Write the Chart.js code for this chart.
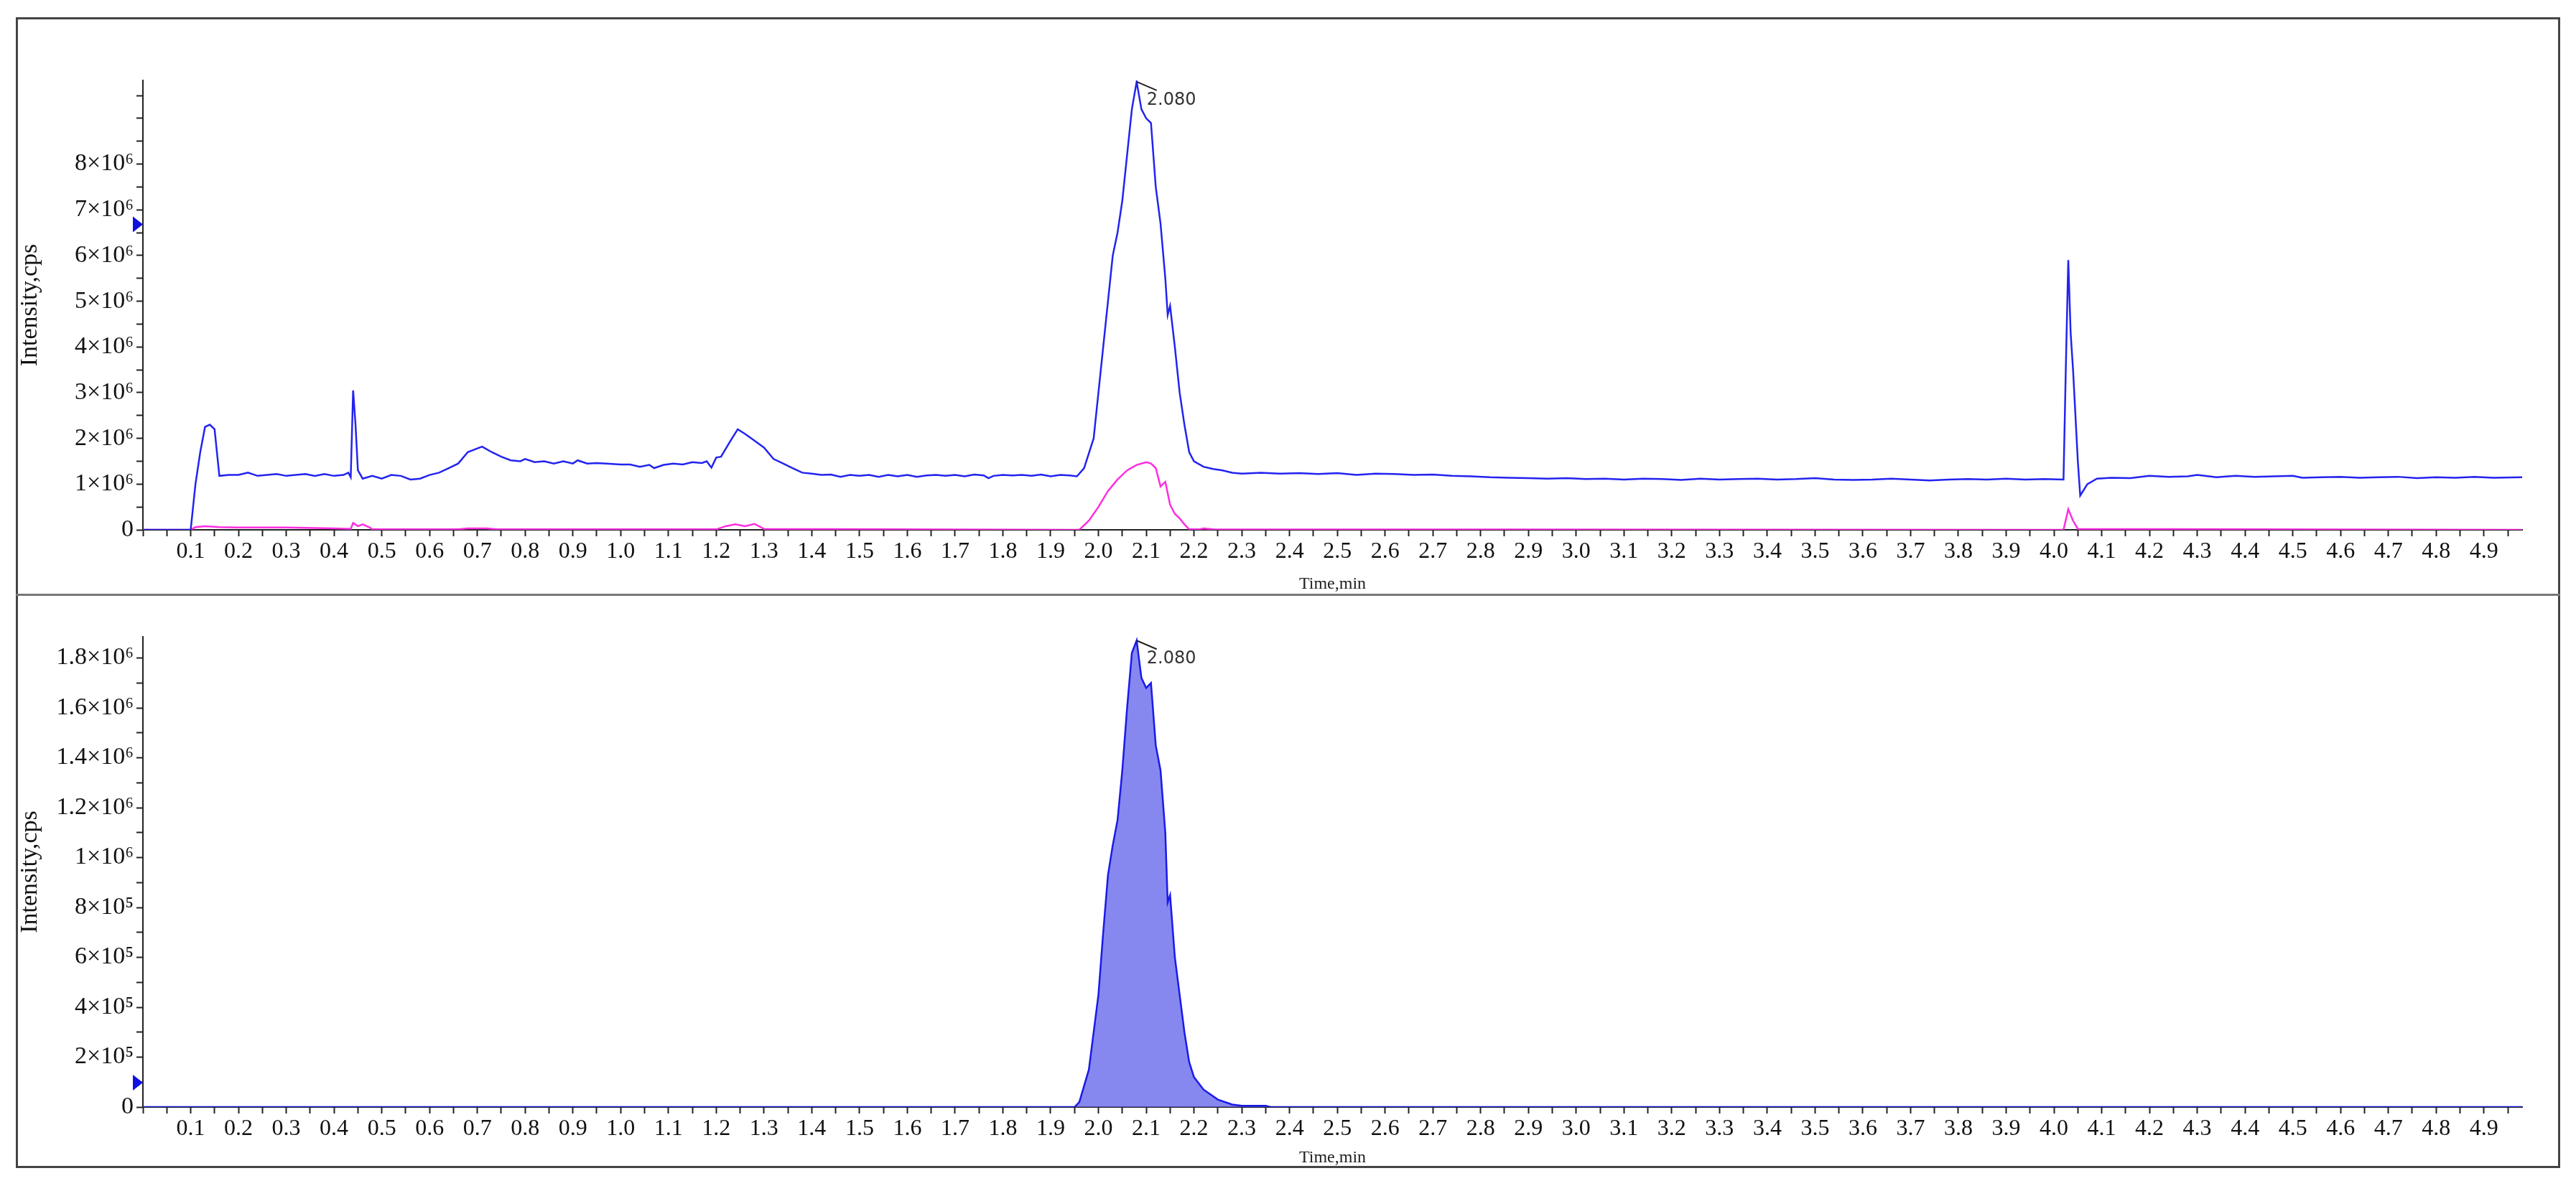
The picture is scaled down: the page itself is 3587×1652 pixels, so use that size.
<!DOCTYPE html>
<html><head><meta charset="utf-8">
<script src="https://cdn.jsdelivr.net/npm/chart.js@4/dist/chart.umd.min.js"></script>
<style>
html,body{margin:0;padding:0;background:#fff;width:3587px;height:1652px;overflow:hidden}
#frame{position:absolute;left:22px;top:24px;width:3537px;height:1597px;border:3px solid #444}
#div{position:absolute;left:22px;top:827px;width:3543px;height:3px;background:#777}
canvas{position:absolute}
</style></head><body>
<canvas id="c1" width="3543" height="803" style="left:22px;top:25px"></canvas>
<canvas id="c2" width="3543" height="797" style="left:22px;top:830px"></canvas>
<div id="frame"></div><div id="div"></div>
<script>
// ---- DATA (intensity in units of 1e6 cps, time in min) ----
const ticTime1 = [0.00,0.10,0.11,0.12,0.13,0.14,0.15,0.16,0.18,0.20,0.22,0.24,0.26,0.28,0.30,0.32,0.34,0.36,0.38,0.40,0.42,0.43,0.435,0.44,0.445,0.45,0.46,0.48,0.50,0.52,0.54,0.56,0.58,0.60,0.62,0.64,0.66,0.68,0.70,0.71,0.73,0.75,0.77,0.79,0.80,0.82,0.84,0.86,0.88,0.90,0.91,0.93,0.95,0.97,1.00,1.02,1.04,1.06,1.07,1.09,1.11,1.13,1.15,1.17,1.18,1.19,1.20,1.21,1.23,1.245,1.26,1.28,1.30,1.32,1.34,1.36,1.38,1.40,1.42,1.44,1.46,1.48,1.50,1.52,1.54,1.56,1.58,1.60,1.62,1.64,1.66,1.68,1.70,1.72,1.74,1.76,1.77,1.78,1.80,1.82,1.84,1.86,1.88,1.90,1.92,1.94,1.955];
const ticValue1 = [0,0,1.0,1.7,2.25,2.3,2.2,1.18,1.2,1.2,1.25,1.18,1.2,1.22,1.18,1.2,1.22,1.18,1.22,1.18,1.2,1.25,1.15,3.05,2.3,1.3,1.12,1.18,1.12,1.2,1.18,1.1,1.12,1.2,1.25,1.35,1.45,1.7,1.78,1.82,1.7,1.6,1.52,1.5,1.55,1.48,1.5,1.45,1.5,1.45,1.52,1.45,1.46,1.45,1.43,1.43,1.38,1.42,1.35,1.42,1.45,1.43,1.48,1.46,1.5,1.36,1.58,1.6,1.95,2.2,2.1,1.95,1.8,1.55,1.45,1.35,1.25,1.23,1.2,1.21,1.16,1.2,1.18,1.2,1.16,1.2,1.17,1.2,1.16,1.19,1.2,1.18,1.2,1.17,1.21,1.19,1.13,1.18,1.2,1.19,1.2,1.18,1.21,1.17,1.2,1.19,1.17];
const ticTime2 = [1.97,1.99,2.00,2.01,2.02,2.03,2.04,2.05,2.06,2.07,2.08,2.09,2.10,2.11,2.12,2.13,2.14,2.145,2.15,2.16,2.17,2.18,2.19,2.20,2.22,2.24,2.26,2.28];
const ticValue2 = [1.35,2.0,3.0,4.0,5.0,6.0,6.5,7.2,8.2,9.2,9.8,9.2,9.0,8.9,7.5,6.7,5.5,4.7,4.9,4.0,3.0,2.3,1.7,1.5,1.38,1.33,1.3,1.25];
const ticTime3 = [2.30,2.34,2.38,2.42,2.46,2.50,2.54,2.58,2.62,2.66,2.70,2.74,2.78,2.82,2.86,2.90,2.94,2.98,3.02,3.06,3.10,3.14,3.18,3.22,3.26,3.30,3.34,3.38,3.42,3.46,3.50,3.54,3.58,3.62,3.66,3.70,3.74,3.78,3.82,3.86,3.90,3.94,3.98,4.02];
const ticValue3 = [1.23,1.25,1.23,1.24,1.22,1.24,1.2,1.23,1.22,1.2,1.21,1.18,1.17,1.15,1.14,1.13,1.12,1.13,1.11,1.12,1.1,1.12,1.11,1.09,1.12,1.1,1.11,1.12,1.1,1.11,1.13,1.1,1.09,1.1,1.12,1.1,1.08,1.1,1.11,1.1,1.12,1.1,1.11,1.1];
const ticTime4 = [4.025,4.03,4.035,4.04,4.045,4.05,4.055,4.07,4.09,4.12,4.16,4.20,4.24,4.28,4.30,4.34,4.38,4.42,4.46,4.50,4.52,4.56,4.60,4.64,4.68,4.72,4.76,4.80,4.84,4.88,4.92,4.98];
const ticValue4 = [3.6,5.9,4.3,3.5,2.5,1.5,0.75,1.0,1.12,1.14,1.13,1.18,1.16,1.17,1.2,1.15,1.18,1.16,1.17,1.18,1.14,1.15,1.16,1.14,1.15,1.16,1.13,1.15,1.14,1.16,1.14,1.15];
const ionTime = [0.00,0.10,0.11,0.13,0.16,0.20,0.30,0.40,0.435,0.44,0.45,0.46,0.475,0.48,0.66,0.68,0.72,0.74,1.20,1.22,1.24,1.26,1.28,1.30,1.96,1.98,2.00,2.02,2.04,2.06,2.08,2.10,2.11,2.12,2.13,2.14,2.15,2.16,2.17,2.18,2.19,2.21,2.22,2.24,4.02,4.03,4.04,4.05,4.98];
const ionValue = [0,0,0.06,0.08,0.06,0.05,0.05,0.03,0.02,0.15,0.08,0.12,0.05,0.01,0.01,0.03,0.03,0.01,0.01,0.08,0.12,0.08,0.13,0.02,0,0.2,0.5,0.85,1.1,1.3,1.42,1.48,1.45,1.35,0.95,1.05,0.55,0.35,0.25,0.12,0.01,0.01,0.03,0.01,0,0.45,0.2,0.02,0];
const xicTime = [0.00,1.95,1.96,1.98,2.00,2.01,2.02,2.03,2.04,2.05,2.06,2.07,2.08,2.09,2.10,2.11,2.12,2.13,2.14,2.145,2.15,2.16,2.17,2.18,2.19,2.20,2.22,2.25,2.28,2.30,2.35,2.36,4.98];
const xicValue = [0,0,0.02,0.15,0.45,0.7,0.93,1.05,1.15,1.35,1.6,1.82,1.87,1.72,1.68,1.7,1.45,1.35,1.1,0.82,0.85,0.6,0.45,0.3,0.18,0.12,0.07,0.03,0.01,0.005,0.005,0,0];
const peakLabel = "2.080";
const peakTime = 2.08;
const topArrow = 6.68, bottomArrow = 0.098;

const pts=(t,v)=>t.map((x,i)=>({x:x,y:v[i]*1e6}));
const ticTime=[...ticTime1,...ticTime2,...ticTime3,...ticTime4];
const ticValue=[...ticValue1,...ticValue2,...ticValue3,...ticValue4];
const sup={5:'⁵',6:'⁶'};
const fmt=v=>{ if(v===0) return '0'; const e=Math.floor(Math.log10(v)+1e-9); const m=+(v/Math.pow(10,e)).toFixed(1); return m+'×10'+sup[e]; };
const serif="'Liberation Serif','Times New Roman',serif";
const XMAX=4.98;

function annot(arrowVal){
  return {id:'annot',afterDatasetsDraw(ch){
    const c=ch.ctx,x=ch.scales.x,y=ch.scales.y;
    const ds=ch.data.datasets[0].data; let py=0; ds.forEach(p=>{if(Math.abs(p.x-peakTime)<1e-6) py=p.y;});
    const px=x.getPixelForValue(peakTime), pyy=y.getPixelForValue(py);
    c.save(); c.strokeStyle='#222'; c.lineWidth=2; c.beginPath(); c.moveTo(px,pyy); c.lineTo(px+28,pyy+12); c.stroke();
    c.fillStyle='#333'; c.font="24px 'DejaVu Sans',sans-serif"; c.textBaseline='middle'; c.fillText(peakLabel,px+14,pyy+26);
    const ay=y.getPixelForValue(arrowVal*1e6), ax=x.left;
    c.fillStyle='#1010e0'; c.beginPath(); c.moveTo(ax-14,ay-11); c.lineTo(ax,ay); c.lineTo(ax-14,ay+11); c.closePath(); c.fill();
    c.restore();
  }};
}
function make(id,datasets,ymax,step,labelStep,labelMax,padTop,xh,arrowVal){
  return new Chart(document.getElementById(id),{type:'line',data:{datasets},
    options:{responsive:false,animation:false,devicePixelRatio:1,
      layout:{padding:{top:padTop,right:53,left:0,bottom:0}},
      plugins:{legend:{display:false},tooltip:{enabled:false}},
      elements:{point:{radius:0},line:{tension:0}},
      scales:{
        x:{type:'linear',min:0,max:XMAX,afterFit(s){s.height=xh;},
          border:{color:'#222',width:2},grid:{drawOnChartArea:false,tickLength:9,tickColor:'#222',tickWidth:2},
          afterBuildTicks(s){const t=[];for(let i=0;i<=99;i++)t.push({value:i*0.05});s.ticks=t;},
          ticks:{autoSkip:false,maxRotation:0,color:'#111',font:{family:serif,size:32},padding:2,
            callback(v){const n=Math.round(v*100);return (n%10===0&&n>0&&n<=490)?(n/100).toFixed(1):'';}},
          title:{display:true,text:'Time,min',color:'#222',font:{family:serif,size:24},padding:{top:-4,bottom:0}}},
        y:{min:0,max:ymax,afterFit(s){s.width=177;},
          border:{color:'#222',width:2},grid:{drawOnChartArea:false,tickLength:9,tickColor:'#222',tickWidth:2},
          afterBuildTicks(s){const t=[];for(let v=0;v<=ymax+1;v+=step)t.push({value:v});s.ticks=t;},
          ticks:{autoSkip:false,color:'#111',font:{family:serif,size:34},padding:4,
            callback(v){const k=Math.round(v/labelStep*1000)/1000;return (Number.isInteger(k)&&v<=labelMax+1)?fmt(v):'';}},
          title:{display:true,text:'Intensity,cps',color:'#111',font:{family:serif,size:34},padding:{top:0,bottom:2}}}
      }},plugins:[annot(arrowVal)]});
}
make('c1',[
  {data:pts(ticTime,ticValue),borderColor:'#2323f0',borderWidth:2.5,fill:false},
  {data:pts(ionTime,ionValue),borderColor:'#ff2ee0',borderWidth:2.5,fill:false}
],9.83e6,5e5,1e6,8e6,87,90,topArrow);
make('c2',[
  {data:pts(xicTime,xicValue),borderColor:'#1a1ae8',borderWidth:2.5,fill:'origin',backgroundColor:'rgba(95,95,235,0.75)'}
],1.885e6,1e5,2e5,1.8e6,57,85,bottomArrow);
</script></body></html>
